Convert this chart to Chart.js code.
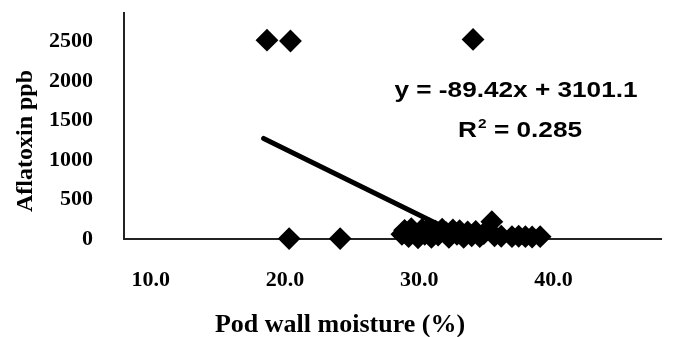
<!DOCTYPE html>
<html>
<head>
<meta charset="utf-8">
<script src="https://cdn.jsdelivr.net/npm/chart.js@4.4.1/dist/chart.umd.min.js"></script>
<style>
  html, body { margin: 0; padding: 0; background: #fff; }
  canvas { display: block; }
</style>
</head>
<body>
<canvas id="myChart" width="673" height="337"></canvas>
<script>
// pod wall moisture (%) vs aflatoxin (ppb), one entry per sample
const moisture = [
  18.65, 20.4, 34.0, 20.3, 24.1,
  28.7, 28.9, 29.2, 29.4, 29.7, 29.9, 30.2, 30.4, 30.7, 30.9,
  31.2, 31.4, 31.7, 32.0, 32.2, 32.5, 32.8, 33.0, 33.3, 33.6,
  33.9, 34.2, 34.5, 34.8, 35.4, 35.6, 36.1, 36.9, 37.4, 37.9, 38.4, 39.0
];
const aflatoxin = [
  2520, 2510, 2530, 5, 5,
  60, 110, 30, 130, 70, 15, 120, 60, 135, 20,
  100, 50, 125, 80, 20, 115, 60, 105, 20, 90,
  40, 95, 30, 70, 220, 40, 35, 30, 35, 30, 25, 30
];
// trend line as drawn in the figure
const trendX = [18.4, 31.5];
const trendY = [1275, 178];
const xTicks = [10, 20, 30, 40];
const yTicks = [0, 500, 1000, 1500, 2000, 2500];

const serif = '"Liberation Serif", "Times New Roman", serif';
const sans = '"Liberation Sans", Arial, sans-serif';

const textPlugin = {
  id: "figureText",
  afterDraw(chart) {
    const ctx = chart.ctx;
    ctx.save();
    ctx.fillStyle = "#000";

    // x axis title
    ctx.font = "bold 26px " + serif;
    ctx.textAlign = "center";
    ctx.textBaseline = "alphabetic";
    ctx.fillText("Pod wall moisture (%)", 340, 332);

    // y axis title
    ctx.save();
    ctx.translate(32, 141);
    ctx.rotate(-Math.PI / 2);
    ctx.font = "bold 24px " + serif;
    ctx.fillText("Aflatoxin ppb", 0, 0);
    ctx.restore();

    // regression equation
    ctx.save();
    ctx.translate(516, 97);
    ctx.scale(1.19, 1);
    ctx.font = "bold 22px " + sans;
    ctx.fillText("y = -89.42x + 3101.1", 0, 0);
    ctx.restore();

    ctx.save();
    ctx.translate(458, 137);
    ctx.scale(1.19, 1);
    ctx.textAlign = "left";
    ctx.font = "bold 22px " + sans;
    ctx.fillText("R", 0, 0);
    let w = ctx.measureText("R").width;
    ctx.font = "bold 13px " + sans;
    ctx.fillText("2", w + 1, -9);
    w += ctx.measureText("2").width + 1;
    ctx.font = "bold 22px " + sans;
    ctx.fillText(" = 0.285", w, 0);
    ctx.restore();

    ctx.restore();
  }
};

const ctx = document.getElementById("myChart").getContext("2d");
const myChart = new Chart(ctx, {
  type: "scatter",
  data: {
    datasets: [
      {
        label: "Samples",
        data: moisture.map((m, i) => ({ x: m, y: aflatoxin[i] })),
        pointStyle: "rectRot",
        pointRadius: 10,
        pointBorderWidth: 2,
        backgroundColor: "#000",
        borderColor: "#000",
        clip: false,
        order: 1
      },
      {
        label: "Trend",
        type: "line",
        data: trendX.map((x, i) => ({ x: x, y: trendY[i] })),
        borderColor: "#000",
        borderWidth: 5,
        pointRadius: 0,
        borderCapStyle: "round",
        clip: false,
        order: 2
      }
    ]
  },
  options: {
    responsive: false,
    animation: false,
    layout: { padding: { top: 10, right: 5, left: 0, bottom: 0 } },
    plugins: {
      legend: { display: false },
      tooltip: { enabled: false }
    },
    scales: {
      x: {
        type: "linear",
        min: 8,
        max: 48,
        afterFit: (s) => { s.height = 98; },
        afterBuildTicks: (s) => { s.ticks = xTicks.map(v => ({ value: v })); },
        // hidden tick marks only push the labels down
        grid: { display: false, drawTicks: true, tickLength: 28 },
        border: { display: true, color: "#222", width: 2 },
        ticks: {
          padding: 0,
          color: "#000",
          font: { family: serif, size: 22, weight: "bold" },
          callback: (v) => Number(v).toFixed(1)
        }
      },
      y: {
        type: "linear",
        min: 0,
        max: 2862,
        afterFit: (s) => { s.width = 124; },
        afterBuildTicks: (s) => { s.ticks = yTicks.map(v => ({ value: v })); },
        grid: { display: false, drawTicks: true, tickLength: 31 },
        border: { display: true, color: "#222", width: 2 },
        ticks: {
          padding: 0,
          color: "#000",
          font: { family: serif, size: 22, weight: "bold" },
          callback: (v) => String(v)
        }
      }
    }
  },
  plugins: [textPlugin]
});
</script>
</body>
</html>
